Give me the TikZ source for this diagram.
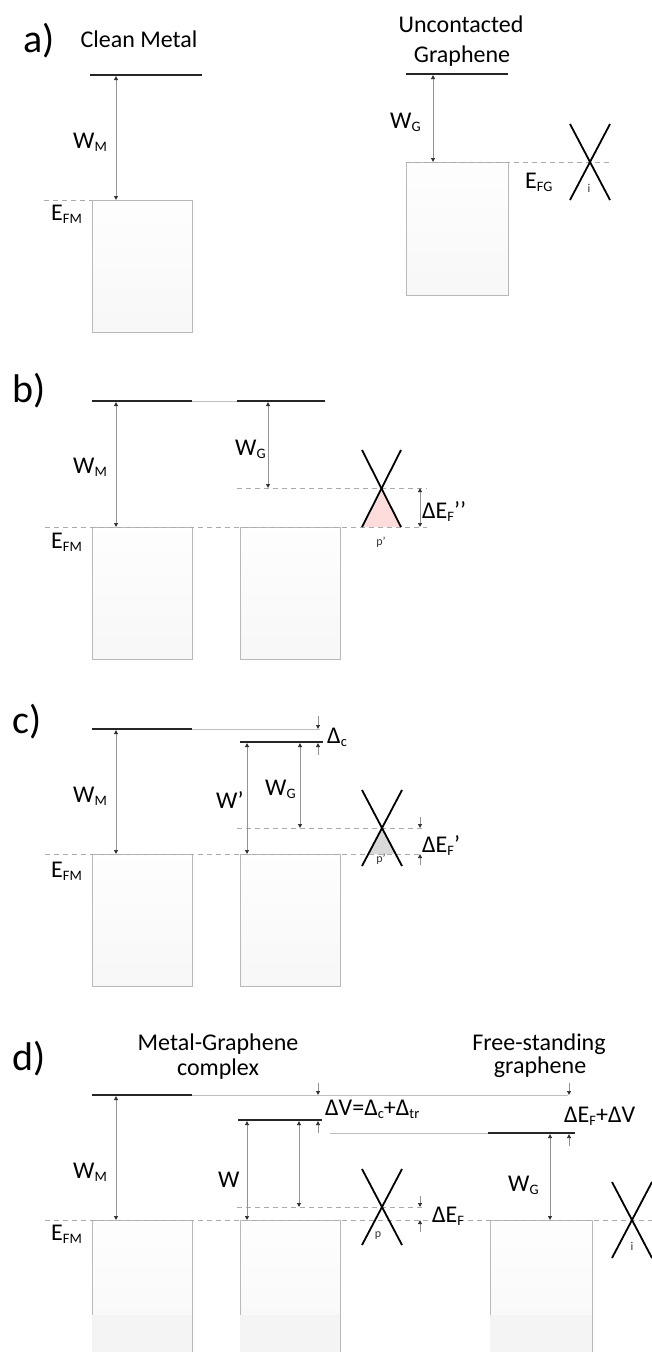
\documentclass[tikz,border=0pt]{standalone}
\usepackage{fontspec}
\setmainfont{Carlito}
\usetikzlibrary{arrows.meta}
\newcommand\lo[1]{\raisebox{-3pt}{\scalebox{0.6}{#1}}}
\begin{document}
\begin{tikzpicture}[x=1pt,y=-1pt,
  vac/.style={line width=1.8pt, draw=black!85},
  thinlvl/.style={line width=0.7pt, draw=gray!50},
  fermi/.style={line width=0.7pt, draw=gray!65, dash pattern=on 5pt off 4pt},
  dimtwo/.style={line width=0.6pt, draw=gray!85, {Latex[length=4pt,width=4.5pt,color=black!85]}-{Latex[length=4pt,width=4.5pt,color=black!85]}},
  dimone/.style={line width=0.6pt, draw=gray!85, -{Latex[length=4pt,width=4.5pt,color=black!85]}},
  cone/.style={line width=1.8pt, draw=black},
  bandbox/.style={rectangle, draw=gray!55, line width=0.8pt, top color=gray!1, bottom color=gray!6, inner sep=0pt, minimum width=100pt, minimum height=132pt, anchor=north west},
  lbl/.style={font=\fontsize{24}{27}\selectfont, inner sep=0pt},
  panel/.style={font=\fontsize{40}{42}\selectfont, inner sep=0pt},
  tinylbl/.style={font=\fontsize{12}{13}\selectfont, inner sep=0pt, text=black!80}
]
\clip (0,0) rectangle (652,1352);
\fill[white] (0,0) rectangle (652,1352);

% ================= panel a =================
\node[panel, anchor=base west] (pa) at (23,52) {a)};
\node[lbl, anchor=base] (tcm) at (139,47) {Clean Metal};
\node[lbl, anchor=base] (tug1) at (461,32) {Uncontacted};
\node[lbl, anchor=base] (tug2) at (462,62) {Graphene};

\node[bandbox] (mboxa) at (92,200) {};
\draw[fermi] (44,200) coordinate (fa1) -- (92,200) coordinate (fa2);
\draw[vac] (90,75) coordinate (va1) -- (202,75) coordinate (va2);
\coordinate (wma1) at (116,76); \coordinate (wma2) at (116,200);
\draw[dimtwo] (wma1) -- (wma2);
\node[lbl, anchor=base west] (lwma) at (73,148) {W\lo{M}};
\node[lbl, anchor=base west] (lefa) at (51,220) {E\lo{FM}};

\node[bandbox, minimum width=102pt, minimum height=133pt] (gboxa) at (406,162) {};
\draw[fermi] (406,162) coordinate (fg1) -- (612,162) coordinate (fg2);
\draw[vac] (406,74) coordinate (vg1) -- (508,74) coordinate (vg2);
\coordinate (wga1) at (433,75); \coordinate (wga2) at (433,162);
\draw[dimtwo] (wga1) -- (wga2);
\node[lbl, anchor=base west] (lwga) at (390,128) {W\lo{G}};
\node[lbl, anchor=base west] (lefg) at (525,188) {E\lo{FG}};
\coordinate (ca1) at (570,124); \coordinate (ca2) at (610,200);
\coordinate (ca3) at (610,124); \coordinate (ca4) at (570,200);
\draw[cone] (ca1) -- (ca2); \draw[cone] (ca3) -- (ca4);
\node[tinylbl] (ia) at (589,188) {i};

% ================= panel b =================
\node[panel, anchor=base west] (pb) at (12,402) {b)};
\node[bandbox] (mboxb) at (92,527) {};
\node[bandbox] (gboxb) at (240,527) {};
\fill[pink!60!red!25] (381,488) -- (362,527) -- (401,527) -- cycle;
\draw[fermi] (45,527) coordinate (fb1) -- (427,527) coordinate (fb2);
\draw[fermi] (237,488) coordinate (fb3) -- (427,488) coordinate (fb4);
\draw[vac] (92,401) coordinate (vb1) -- (192,401) coordinate (vb2);
\draw[thinlvl] (vb2) -- (237,401) coordinate (vb3);
\draw[vac] (vb3) -- (325,401) coordinate (vb4);
\coordinate (wmb1) at (116,402); \coordinate (wmb2) at (116,527);
\draw[dimtwo] (wmb1) -- (wmb2);
\coordinate (wgb1) at (268,402); \coordinate (wgb2) at (268,488);
\draw[dimtwo] (wgb1) -- (wgb2);
\node[lbl, anchor=base west] (lwmb) at (73,473) {W\lo{M}};
\node[lbl, anchor=base west] (lwgb) at (235,455) {W\lo{G}};
\node[lbl, anchor=base west] (lefb) at (51,548) {E\lo{FM}};
\coordinate (cb1) at (362,450); \coordinate (cb2) at (401,527);
\coordinate (cb3) at (401,450); \coordinate (cb4) at (362,527);
\draw[cone] (cb1) -- (cb2); \draw[cone] (cb3) -- (cb4);
\node[tinylbl] (pbl) at (381,542) {p’};
\coordinate (deb1) at (420,488); \coordinate (deb2) at (420,527);
\draw[dimtwo] (deb1) -- (deb2);
\node[lbl, anchor=base west] (ldeb) at (422,518) {ΔE\lo{F}’’};

% ================= panel c =================
\node[panel, anchor=base west] (pc) at (12,733) {c)};
\node[bandbox] (mboxc) at (92,854) {};
\node[bandbox] (gboxc) at (240,854) {};
\fill[gray!30] (382,828) -- (368,854) -- (396,854) -- cycle;
\draw[fermi] (45,854) coordinate (fc1) -- (423,854) coordinate (fc2);
\draw[fermi] (237,828) coordinate (fc3) -- (423,828) coordinate (fc4);
\draw[vac] (92,729) coordinate (vc1) -- (192,729) coordinate (vc2);
\draw[thinlvl] (vc2) -- (320,729) coordinate (vc3);
\draw[vac] (240,742) coordinate (vc4) -- (323,742) coordinate (vc5);
\coordinate (wmc1) at (116,730); \coordinate (wmc2) at (116,854);
\draw[dimtwo] (wmc1) -- (wmc2);
\coordinate (wpc1) at (247,743); \coordinate (wpc2) at (247,854);
\draw[dimtwo] (wpc1) -- (wpc2);
\coordinate (wgc1) at (300,743); \coordinate (wgc2) at (300,828);
\draw[dimtwo] (wgc1) -- (wgc2);
\node[lbl, anchor=base west] (lwmc) at (73,802) {W\lo{M}};
\node[lbl, anchor=base west] (lwpc) at (216,808) {W’};
\node[lbl, anchor=base west] (lwgc) at (265,795) {W\lo{G}};
\node[lbl, anchor=base west] (lefc) at (51,877) {E\lo{FM}};
\coordinate (dc1) at (318,716); \coordinate (dc2) at (318,729);
\coordinate (dc3) at (318,755); \coordinate (dc4) at (318,743);
\draw[dimone] (dc1) -- (dc2); \draw[dimone] (dc3) -- (dc4);
\node[lbl, anchor=base west] (ldc) at (327,743) {Δ\lo{c}};
\coordinate (cc1) at (362,790); \coordinate (cc2) at (402,866);
\coordinate (cc3) at (402,790); \coordinate (cc4) at (362,866);
\draw[cone] (cc1) -- (cc2); \draw[cone] (cc3) -- (cc4);
\node[tinylbl] (pcl) at (381,859) {p’};
\coordinate (dec1) at (420,817); \coordinate (dec2) at (420,828);
\coordinate (dec3) at (420,865); \coordinate (dec4) at (420,854);
\draw[dimone] (dec1) -- (dec2); \draw[dimone] (dec3) -- (dec4);
\node[lbl, anchor=base west] (ldec) at (422,852) {ΔE\lo{F}’};

% ================= panel d =================
\node[panel, anchor=base west] (pd) at (12,1070) {d)};
\node[lbl, anchor=base] (tmg1) at (218,1050) {Metal-Graphene};
\node[lbl, anchor=base] (tmg2) at (218,1075) {complex};
\node[lbl, anchor=base] (tfs1) at (539,1050) {Free-standing};
\node[lbl, anchor=base] (tfs2) at (540,1073) {graphene};

\node[bandbox] (mboxd) at (92,1220) {};
\node[bandbox] (gboxd) at (240,1220) {};
\node[bandbox, minimum width=102pt] (fboxd) at (490,1220) {};
\fill[gray!9] (92.4,1315) rectangle (191.6,1352);
\fill[gray!9] (240.4,1315) rectangle (339.6,1352);
\fill[gray!9] (490.4,1315) rectangle (591.6,1352);
\draw[fermi] (45,1220) coordinate (fd1) -- (652,1220) coordinate (fd2);
\draw[fermi] (237,1207) coordinate (fd3) -- (425,1207) coordinate (fd4);
\draw[vac] (92,1095) coordinate (vd1) -- (192,1095) coordinate (vd2);
\draw[thinlvl] (vd2) -- (568,1095) coordinate (vd3);
\draw[vac] (238,1120) coordinate (vd4) -- (322,1120) coordinate (vd5);
\draw[thinlvl] (330,1133) coordinate (vd6) -- (488,1133) coordinate (vd7);
\draw[vac] (vd7) -- (575,1133) coordinate (vd8);
\coordinate (wmd1) at (116,1096); \coordinate (wmd2) at (116,1220);
\draw[dimtwo] (wmd1) -- (wmd2);
\coordinate (wd1) at (247,1121); \coordinate (wd2) at (247,1220);
\draw[dimtwo] (wd1) -- (wd2);
\coordinate (wgd1) at (299,1121); \coordinate (wgd2) at (299,1207);
\draw[dimtwo] (wgd1) -- (wgd2);
\coordinate (wfd1) at (550,1134); \coordinate (wfd2) at (550,1220);
\draw[dimtwo] (wfd1) -- (wfd2);
\node[lbl, anchor=base west] (lwmd) at (73,1178) {W\lo{M}};
\node[lbl, anchor=base west] (lwd) at (218,1187) {W};
\node[lbl, anchor=base west] (lwfd) at (508,1191) {W\lo{G}};
\node[lbl, anchor=base west] (lefd) at (51,1240) {E\lo{FM}};
\coordinate (dv1) at (318,1083); \coordinate (dv2) at (318,1095);
\coordinate (dv3) at (318,1133); \coordinate (dv4) at (318,1121);
\draw[dimone] (dv1) -- (dv2); \draw[dimone] (dv3) -- (dv4);
\node[lbl, anchor=base west] (ldv) at (325,1115) {ΔV=Δ\lo{c}+Δ\lo{tr}};
\coordinate (dfv1) at (569,1083); \coordinate (dfv2) at (569,1095);
\coordinate (dfv3) at (569,1146); \coordinate (dfv4) at (569,1134);
\draw[dimone] (dfv1) -- (dfv2); \draw[dimone] (dfv3) -- (dfv4);
\node[lbl, anchor=base west] (ldfv) at (564,1122) {ΔE\lo{F}+ΔV};
\coordinate (cd1) at (362,1169); \coordinate (cd2) at (402,1245);
\coordinate (cd3) at (402,1169); \coordinate (cd4) at (362,1245);
\draw[cone] (cd1) -- (cd2); \draw[cone] (cd3) -- (cd4);
\node[tinylbl] (pdl) at (378,1236) {p};
\coordinate (ded1) at (420,1196); \coordinate (ded2) at (420,1207);
\coordinate (ded3) at (420,1232); \coordinate (ded4) at (420,1220);
\draw[dimone] (ded1) -- (ded2); \draw[dimone] (ded3) -- (ded4);
\node[lbl, anchor=base west] (lded) at (432,1222) {ΔE\lo{F}};
\coordinate (ce1) at (612,1182); \coordinate (ce2) at (652,1258);
\coordinate (ce3) at (652,1182); \coordinate (ce4) at (612,1258);
\draw[cone] (ce1) -- (ce2); \draw[cone] (ce3) -- (ce4);
\node[tinylbl] (idl) at (632,1246) {i};
\end{tikzpicture}
\end{document}
